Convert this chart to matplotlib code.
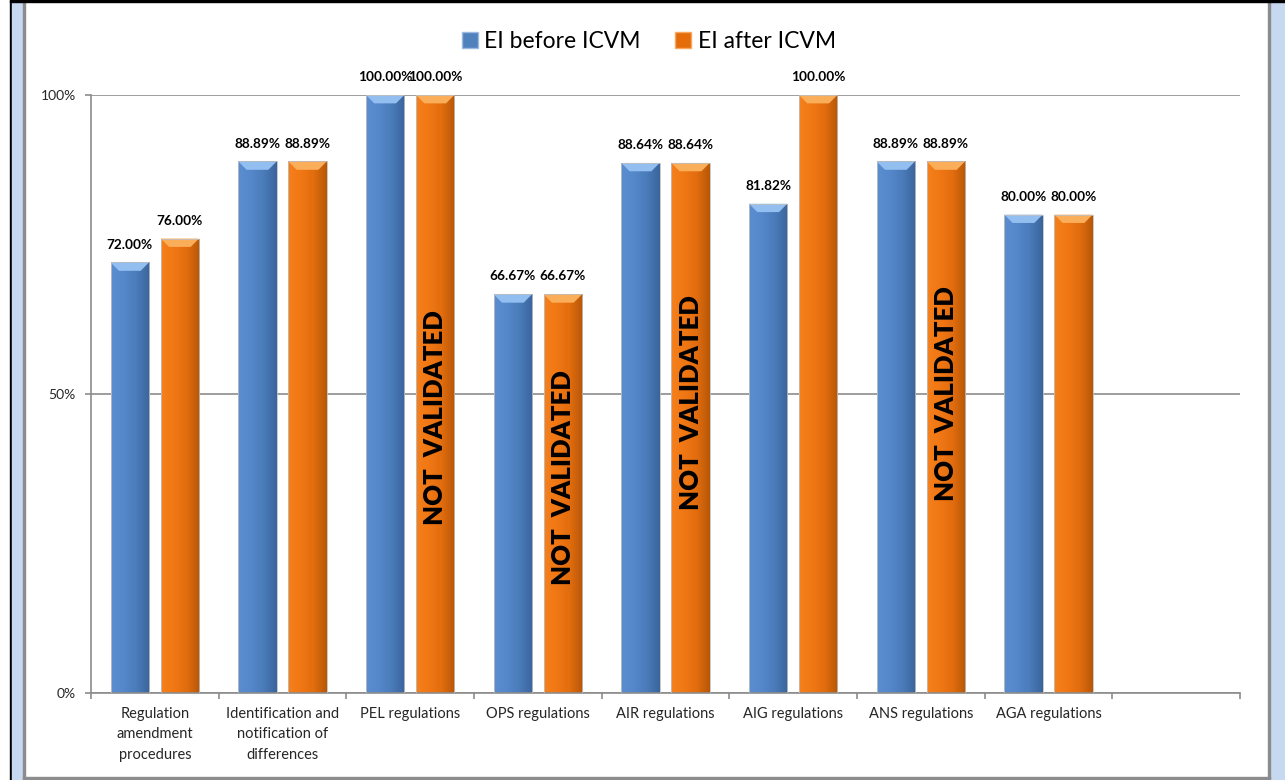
import numpy as np
import matplotlib
matplotlib.use("Agg")
import matplotlib.pyplot as plt
from matplotlib.patches import Rectangle, Polygon, Patch
from matplotlib.colors import LinearSegmentedColormap

plt.rcParams['font.family'] = ['Lato', 'DejaVu Sans']

# data
categories = ['Regulation\namendment\nprocedures', 'Identification and\nnotification of\ndifferences',
              'PEL regulations', 'OPS regulations', 'AIR regulations', 'AIG regulations',
              'ANS regulations', 'AGA regulations']
ei_before = [72.00, 88.89, 100.00, 66.67, 88.64, 81.82, 88.89, 80.00]
ei_after = [76.00, 88.89, 100.00, 66.67, 88.64, 100.00, 88.89, 80.00]
not_validated = [2, 3, 4, 6]              # categories whose "after" bar is not validated
not_validated_y = [46, 36, 48.5, 50]      # where the label sits on the bar (%)
n_slots = 9                               # the chart keeps one empty slot on the right

blue_cmap = LinearSegmentedColormap.from_list('b', ['#5B8ED0', '#5588CA', '#4A7BBA', '#3A659C'])
orange_cmap = LinearSegmentedColormap.from_list('o', ['#F5801C', '#F07714', '#E26D0E', '#B85707'])
blue_top = '#93BEF0'
orange_top = '#FBAE5A'

fig = plt.figure(figsize=(12.85, 7.8), dpi=100)

# outer frame like the office document border
W, H = 1285.0, 780.0
fig.patches.append(Rectangle((10 / W, 0), 2 / W, 1, transform=fig.transFigure, color='black', zorder=0))
fig.patches.append(Rectangle((12 / W, 0), 11 / W, 1, transform=fig.transFigure, color='#C6D9F1', zorder=0))
fig.patches.append(Rectangle((1270 / W, 0), 15 / W, 1, transform=fig.transFigure, color='#C6D9F1', zorder=0))
fig.patches.append(Rectangle((23 / W, 1 / H), 2 / W, 777 / H, transform=fig.transFigure, color='#8C8C8C', zorder=1))
fig.patches.append(Rectangle((1268 / W, 1 / H), 2 / W, 777 / H, transform=fig.transFigure, color='#8C8C8C', zorder=1))
fig.patches.append(Rectangle((23 / W, 1 / H), 1247 / W, 2 / H, transform=fig.transFigure, color='#8C8C8C', zorder=1))
fig.patches.append(Rectangle((10 / W, 778 / H), 1275 / W, 2 / H, transform=fig.transFigure, color='black', zorder=1))

ax = fig.add_axes([91 / W, 87 / H, 1149 / W, 598 / H])

x = np.arange(len(categories))
width = 0.30
offset = 0.196
grad = np.linspace(0, 1, 64).reshape(1, -1)


def draw_bar(xc, val, cmap, top_color):
    """draw one bevelled bar with a gradient body and a lighter top cap"""
    left = xc - width / 2
    rect = Rectangle((left, 0), width, val, facecolor='none', edgecolor='none')
    ax.add_patch(rect)
    im = ax.imshow(grad, cmap=cmap, aspect='auto', extent=(left, left + width, 0, val),
                   zorder=2, interpolation='bilinear')
    im.set_clip_path(rect)
    cap_h = 1.4
    inset = 0.065
    cap = Polygon([(left, val), (left + width, val), (left + width - inset, val - cap_h),
                   (left + inset, val - cap_h)], closed=True, facecolor=top_color,
                  edgecolor='none', zorder=3)
    ax.add_patch(cap)
    ax.add_patch(Rectangle((left, 0), width, val, facecolor='none', edgecolor='#BFBFBF',
                           linewidth=0.6, zorder=3))


for i in range(len(categories)):
    draw_bar(x[i] - offset, ei_before[i], blue_cmap, blue_top)
    draw_bar(x[i] + offset, ei_after[i], orange_cmap, orange_top)
    ax.annotate('%.2f%%' % ei_before[i], (x[i] - offset, ei_before[i]), xytext=(0, 10),
                textcoords='offset points', ha='center', va='baseline', fontsize=9.8,
                fontweight='bold', color='black')
    ax.annotate('%.2f%%' % ei_after[i], (x[i] + offset, ei_after[i]), xytext=(0, 10),
                textcoords='offset points', ha='center', va='baseline', fontsize=9.8,
                fontweight='bold', color='black')

for i, yy in zip(not_validated, not_validated_y):
    ax.text(x[i] + offset, yy, 'NOT  VALIDATED', rotation=90, ha='center', va='center',
            fontsize=18.5, fontweight='heavy', color='black', zorder=5)

# axes styling
ax.set_xlim(-0.5, n_slots - 0.5)
ax.set_ylim(0, 100)
ax.set_yticks([0, 50, 100])
ax.set_yticklabels(['0%', '50%', '100%'])
ax.yaxis.grid(True, color='#8C8C8C', linewidth=1.2)
ax.set_axisbelow(True)
ax.set_xticks(np.arange(n_slots + 1) - 0.5)
ax.set_xticklabels([])
ax.set_xticks(x, minor=True)
ax.set_xticklabels(categories, minor=True, fontsize=10.5, linespacing=1.6, color='#262626')
ax.tick_params(axis='x', which='minor', length=0, pad=10)
ax.tick_params(axis='x', which='major', length=4, color='#8C8C8C', width=1.2)
ax.tick_params(axis='y', length=4, color='#8C8C8C', width=1.2, labelsize=10, pad=7,
               labelcolor='#262626')
for s in ['top', 'right']:
    ax.spines[s].set_visible(False)
for s in ['left', 'bottom']:
    ax.spines[s].set_color('#8C8C8C')
    ax.spines[s].set_linewidth(1.2)

handles = [Patch(facecolor='#4F81BD', edgecolor='#9CB9DE', label='EI before ICVM'),
           Patch(facecolor='#E46C0A', edgecolor='#F6A860', label='EI after ICVM')]
fig.legend(handles=handles, loc='center', bbox_to_anchor=(0.505, 0.947), ncol=2, frameon=False,
           fontsize=16.5, handlelength=0.7, handleheight=0.7, handletextpad=0.3, columnspacing=1.5)

fig.savefig('out.png', dpi=100)
